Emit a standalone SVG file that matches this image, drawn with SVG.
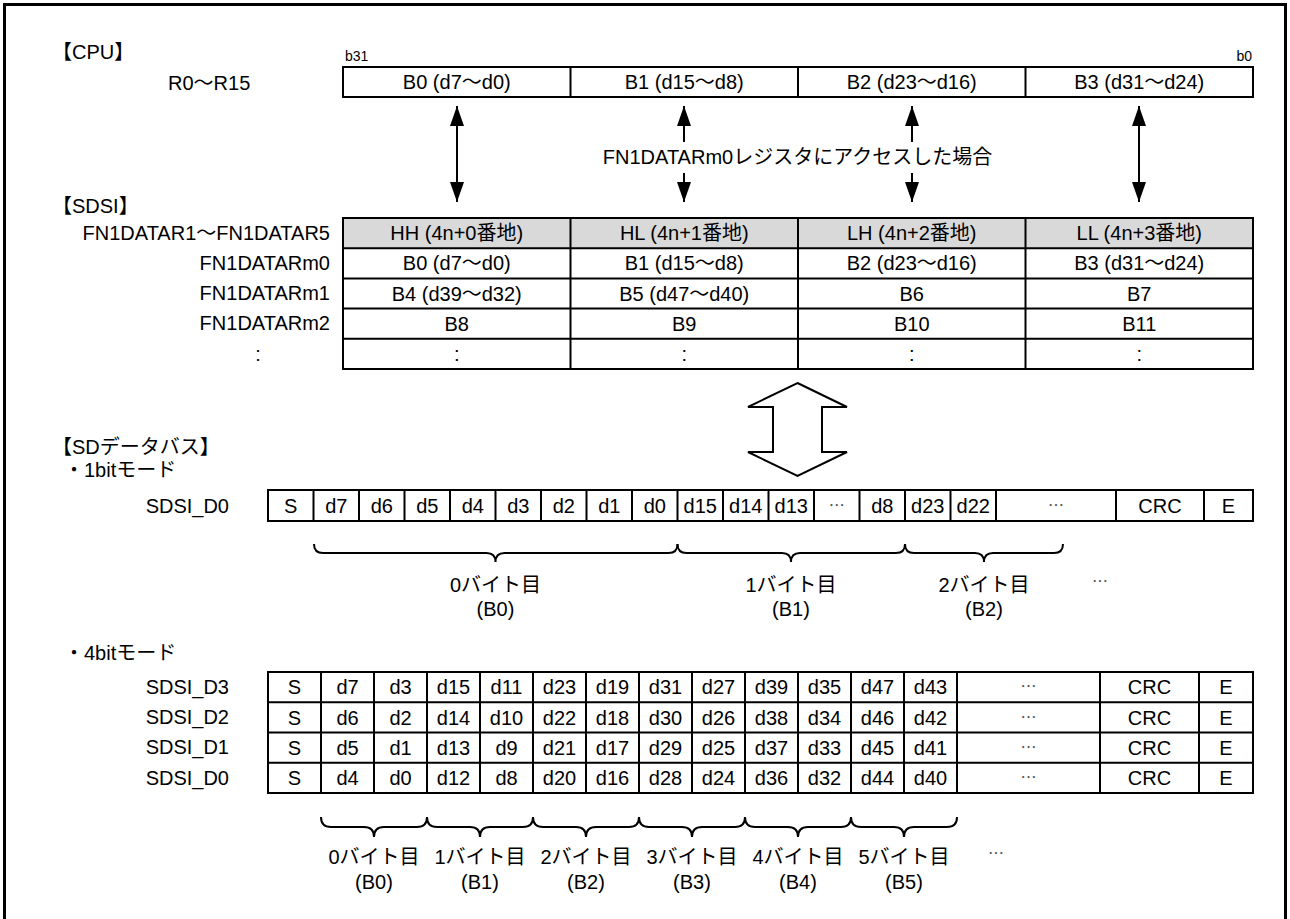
<svg xmlns="http://www.w3.org/2000/svg" width="1290" height="919" viewBox="0 0 1290 919">
<defs>
<style>
.t{font-family:"Liberation Sans","Noto Sans CJK JP",sans-serif;font-size:20px;fill:#000}
.s{font-size:14px}
.c{text-anchor:middle}
.e{text-anchor:end}
.el{font-family:"Noto Sans CJK JP",sans-serif;font-size:16px;fill:#555}
.box{fill:#fff;stroke:#000;stroke-width:2}
.hd{fill:#d9d9d9;stroke:none}
.ln{stroke:#000;stroke-width:2;fill:none}
.ar{stroke:#000;stroke-width:2;fill:none}
.br{fill:none;stroke:#000;stroke-width:2}
</style>
<marker id="ah" viewBox="0 0 20 14" refX="20" refY="7" markerWidth="20" markerHeight="14" markerUnits="userSpaceOnUse" orient="auto-start-reverse">
<path d="M0,0 L20,7 L0,14 z" fill="#000"/>
</marker>
</defs>
<rect width="1290" height="919" fill="#fff"/>
<rect x="4.5" y="4.5" width="1281" height="940" fill="none" stroke="#000" stroke-width="3"/>

<g id="labels" class="t">
<text x="52" y="59">【CPU】</text>
<text x="168" y="90">R0～R15</text>
<text x="52" y="213">【SDSI】</text>
<text class="e" x="330" y="240">FN1DATAR1～FN1DATAR5</text>
<text class="e" x="330" y="270">FN1DATARm0</text>
<text class="e" x="330" y="300">FN1DATARm1</text>
<text class="e" x="330" y="330">FN1DATARm2</text>
<text class="c" x="258" y="361">:</text>
<text x="52" y="454">【SDデータバス】</text>
<text x="64" y="477">・1bitモード</text>
<text class="e" x="229" y="513">SDSI_D0</text>
<text x="64" y="660">・4bitモード</text>
<text class="e" x="229" y="694">SDSI_D3</text>
<text class="e" x="229" y="724">SDSI_D2</text>
<text class="e" x="229" y="754">SDSI_D1</text>
<text class="e" x="229" y="785">SDSI_D0</text>
</g>

<g id="cpu-register" class="t">
<text class="s" x="345" y="61">b31</text>
<text class="s e" x="1252" y="61">b0</text>
<rect class="box" x="343" y="67" width="910" height="30"/>
<path class="ln" d="M570.5,67V97M798,67V97M1025.5,67V97"/>
<text class="c" x="456.75" y="89">B0 (d7～d0)</text>
<text class="c" x="684.25" y="89">B1 (d15～d8)</text>
<text class="c" x="911.75" y="89">B2 (d23～d16)</text>
<text class="c" x="1139.25" y="89">B3 (d31～d24)</text>
</g>

<g id="connectors">
<line class="ar" x1="457" y1="106" x2="457" y2="202" marker-start="url(#ah)" marker-end="url(#ah)"/>
<line class="ar" x1="684" y1="106" x2="684" y2="142" marker-start="url(#ah)"/>
<line class="ar" x1="684" y1="173" x2="684" y2="202" marker-end="url(#ah)"/>
<line class="ar" x1="912" y1="106" x2="912" y2="142" marker-start="url(#ah)"/>
<line class="ar" x1="912" y1="173" x2="912" y2="202" marker-end="url(#ah)"/>
<line class="ar" x1="1139" y1="106" x2="1139" y2="202" marker-start="url(#ah)" marker-end="url(#ah)"/>
<text class="t c" x="797.5" y="164">FN1DATARm0レジスタにアクセスした場合</text>
<polygon points="797.5,383 847,407 822,407 822,452 847,452 797.5,476 748,452 773,452 773,407 748,407" fill="#fff" stroke="#000" stroke-width="2"/>
</g>

<g id="sdsi-table" class="t">
<rect class="box" x="343" y="218" width="910" height="151"/>
<rect class="hd" x="344" y="219" width="908" height="29.2"/>
<path class="ln" d="M343,248.2H1253M343,278.4H1253M343,308.6H1253M343,338.8H1253M570.5,218V369M798,218V369M1025.5,218V369"/>
<text class="c" x="456.75" y="240">HH (4n+0番地)</text>
<text class="c" x="684.25" y="240">HL (4n+1番地)</text>
<text class="c" x="911.75" y="240">LH (4n+2番地)</text>
<text class="c" x="1139.25" y="240">LL (4n+3番地)</text>
<text class="c" x="456.75" y="270">B0 (d7～d0)</text>
<text class="c" x="684.25" y="270">B1 (d15～d8)</text>
<text class="c" x="911.75" y="270">B2 (d23～d16)</text>
<text class="c" x="1139.25" y="270">B3 (d31～d24)</text>
<text class="c" x="456.75" y="300.5">B4 (d39～d32)</text>
<text class="c" x="684.25" y="300.5">B5 (d47～d40)</text>
<text class="c" x="911.75" y="300.5">B6</text>
<text class="c" x="1139.25" y="300.5">B7</text>
<text class="c" x="456.75" y="330.5">B8</text>
<text class="c" x="684.25" y="330.5">B9</text>
<text class="c" x="911.75" y="330.5">B10</text>
<text class="c" x="1139.25" y="330.5">B11</text>
<text class="c" x="456.75" y="361">:</text>
<text class="c" x="684.25" y="361">:</text>
<text class="c" x="911.75" y="361">:</text>
<text class="c" x="1139.25" y="361">:</text>
</g>

<g id="bus-1bit" class="t">
<rect class="box" x="268" y="490" width="985" height="31"/>
<path class="ln" d="M313.5,490V521M359,490V521M404.5,490V521M450,490V521M495.5,490V521M541,490V521M586.5,490V521M632,490V521M677.5,490V521M723,490V521M768.5,490V521M814,490V521M859.5,490V521M905,490V521M950.5,490V521M996,490V521M1116,490V521M1204,490V521"/>
<text class="c" x="290.75" y="513">S</text>
<text class="c" x="336.25" y="513">d7</text>
<text class="c" x="381.75" y="513">d6</text>
<text class="c" x="427.25" y="513">d5</text>
<text class="c" x="472.75" y="513">d4</text>
<text class="c" x="518.25" y="513">d3</text>
<text class="c" x="563.75" y="513">d2</text>
<text class="c" x="609.25" y="513">d1</text>
<text class="c" x="654.75" y="513">d0</text>
<text class="c" x="700.25" y="513">d15</text>
<text class="c" x="745.75" y="513">d14</text>
<text class="c" x="791.25" y="513">d13</text>
<text class="el c" x="836.75" y="511">…</text>
<text class="c" x="882.25" y="513">d8</text>
<text class="c" x="927.75" y="513">d23</text>
<text class="c" x="973.25" y="513">d22</text>
<text class="el c" x="1056" y="511">…</text>
<text class="c" x="1160" y="513">CRC</text>
<text class="c" x="1228.5" y="513">E</text>
</g>

<g id="bytes-1bit" class="t">
<path class="br" d="M314,544Q314,553 323,553H486.5Q495.5,553 495.5,562Q495.5,553 504.5,553H668.5Q677.5,553 677.5,544"/>
<path class="br" d="M677.5,544Q677.5,553 686.5,553H782Q791,553 791,562Q791,553 800,553H896Q905,553 905,544"/>
<path class="br" d="M905,544Q905,553 914,553H975Q984,553 984,562Q984,553 993,553H1054Q1063,553 1063,544"/>
<text class="c" x="495.5" y="592">0バイト目</text>
<text class="c" x="495.5" y="616">(B0)</text>
<text class="c" x="791" y="592">1バイト目</text>
<text class="c" x="791" y="616">(B1)</text>
<text class="c" x="984" y="592">2バイト目</text>
<text class="c" x="984" y="616">(B2)</text>
<text class="el c" x="1100" y="587">…</text>
</g>

<g id="bus-4bit" class="t">
<rect class="box" x="268" y="672" width="985" height="121"/>
<path class="ln" d="M268,702.25H1253M268,732.5H1253M268,762.75H1253M321,672V793M374,672V793M427,672V793M480,672V793M533,672V793M586,672V793M639,672V793M692,672V793M745,672V793M798,672V793M851,672V793M904,672V793M957,672V793M1100,672V793M1199,672V793"/>
<g class="c">
<text x="294.5" y="694">S</text><text x="347.5" y="694">d7</text><text x="400.5" y="694">d3</text><text x="453.5" y="694">d15</text><text x="506.5" y="694">d11</text><text x="559.5" y="694">d23</text><text x="612.5" y="694">d19</text><text x="665.5" y="694">d31</text><text x="718.5" y="694">d27</text><text x="771.5" y="694">d39</text><text x="824.5" y="694">d35</text><text x="877.5" y="694">d47</text><text x="930.5" y="694">d43</text><text class="el" x="1028.5" y="692">…</text><text x="1149.5" y="694">CRC</text><text x="1226" y="694">E</text>
<text x="294.5" y="724.5">S</text><text x="347.5" y="724.5">d6</text><text x="400.5" y="724.5">d2</text><text x="453.5" y="724.5">d14</text><text x="506.5" y="724.5">d10</text><text x="559.5" y="724.5">d22</text><text x="612.5" y="724.5">d18</text><text x="665.5" y="724.5">d30</text><text x="718.5" y="724.5">d26</text><text x="771.5" y="724.5">d38</text><text x="824.5" y="724.5">d34</text><text x="877.5" y="724.5">d46</text><text x="930.5" y="724.5">d42</text><text class="el" x="1028.5" y="722.5">…</text><text x="1149.5" y="724.5">CRC</text><text x="1226" y="724.5">E</text>
<text x="294.5" y="754.5">S</text><text x="347.5" y="754.5">d5</text><text x="400.5" y="754.5">d1</text><text x="453.5" y="754.5">d13</text><text x="506.5" y="754.5">d9</text><text x="559.5" y="754.5">d21</text><text x="612.5" y="754.5">d17</text><text x="665.5" y="754.5">d29</text><text x="718.5" y="754.5">d25</text><text x="771.5" y="754.5">d37</text><text x="824.5" y="754.5">d33</text><text x="877.5" y="754.5">d45</text><text x="930.5" y="754.5">d41</text><text class="el" x="1028.5" y="752.5">…</text><text x="1149.5" y="754.5">CRC</text><text x="1226" y="754.5">E</text>
<text x="294.5" y="785">S</text><text x="347.5" y="785">d4</text><text x="400.5" y="785">d0</text><text x="453.5" y="785">d12</text><text x="506.5" y="785">d8</text><text x="559.5" y="785">d20</text><text x="612.5" y="785">d16</text><text x="665.5" y="785">d28</text><text x="718.5" y="785">d24</text><text x="771.5" y="785">d36</text><text x="824.5" y="785">d32</text><text x="877.5" y="785">d44</text><text x="930.5" y="785">d40</text><text class="el" x="1028.5" y="783">…</text><text x="1149.5" y="785">CRC</text><text x="1226" y="785">E</text>
</g>
</g>

<g id="bytes-4bit" class="t">
<path class="br" d="M321,817Q321,827 331,827H364Q374,827 374,837Q374,827 384,827H417Q427,827 427,817"/>
<path class="br" d="M427,817Q427,827 437,827H470Q480,827 480,837Q480,827 490,827H523Q533,827 533,817"/>
<path class="br" d="M533,817Q533,827 543,827H576Q586,827 586,837Q586,827 596,827H629Q639,827 639,817"/>
<path class="br" d="M639,817Q639,827 649,827H682Q692,827 692,837Q692,827 702,827H735Q745,827 745,817"/>
<path class="br" d="M745,817Q745,827 755,827H788Q798,827 798,837Q798,827 808,827H841Q851,827 851,817"/>
<path class="br" d="M851,817Q851,827 861,827H894Q904,827 904,837Q904,827 914,827H947Q957,827 957,817"/>
<g class="c">
<text x="374" y="864">0バイト目</text><text x="374" y="889">(B0)</text>
<text x="480" y="864">1バイト目</text><text x="480" y="889">(B1)</text>
<text x="586" y="864">2バイト目</text><text x="586" y="889">(B2)</text>
<text x="692" y="864">3バイト目</text><text x="692" y="889">(B3)</text>
<text x="798" y="864">4バイト目</text><text x="798" y="889">(B4)</text>
<text x="904" y="864">5バイト目</text><text x="904" y="889">(B5)</text>
<text class="el" x="996" y="859">…</text>
</g>
</g>
</svg>
